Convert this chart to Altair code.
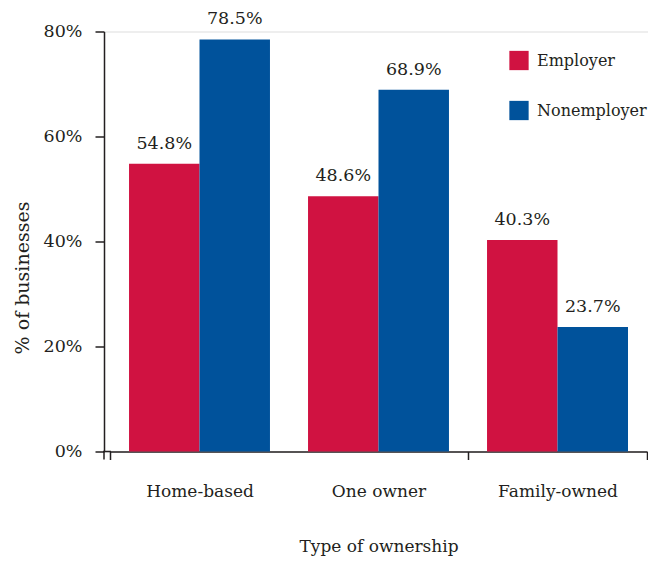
import altair as alt
import pandas as pd

categories = ["Home-based", "One owner", "Family-owned"]
series = ["Employer", "Nonemployer"]
employer = [54.8, 48.6, 40.3]
nonemployer = [78.5, 68.9, 23.7]
y_ticks = [0, 20, 40, 60, 80]

rows = []
for c, e, n in zip(categories, employer, nonemployer):
    rows.append({"type": c, "group": "Employer", "value": e, "label": f"{e:.1f}%"})
    rows.append({"type": c, "group": "Nonemployer", "value": n, "label": f"{n:.1f}%"})
df = pd.DataFrame(rows)

FONT = "DejaVu Serif"
TXT = "#231f20"
W, H = 544, 420

x = alt.X("type:N", sort=categories,
          scale=alt.Scale(paddingInner=0, paddingOuter=0, range=[6, W - 1]),
          axis=alt.Axis(title="Type of ownership", labelAngle=0, tickBand="extent",
                        tickSize=8, labelPadding=37, labelBaseline="alphabetic",
                        domainColor=TXT, tickColor=TXT,
                        tickOpacity={"condition": {"test": "datum.value === 'Home-based'",
                                                   "value": 0}, "value": 1},
                        domainWidth=1.5, tickWidth=1.5, labelFont=FONT, labelFontSize=17,
                        labelColor=TXT, titleFont=FONT, titleFontSize=17, titleColor=TXT,
                        titleFontWeight="normal", titleY=100,
                        titleBaseline="alphabetic"))
y = alt.Y("value:Q", scale=alt.Scale(domain=[0, 80], nice=False),
          axis=alt.Axis(title="% of businesses", values=y_ticks,
                        labelExpr="datum.value + '%'", grid=False, tickSize=9,
                        labelPadding=13, domainColor=TXT, tickColor=TXT, domainWidth=1.5,
                        tickWidth=1.5, labelFont=FONT, labelFontSize=17.5, labelColor=TXT,
                        titleFont=FONT, titleFontSize=19, titleColor=TXT,
                        titleFontWeight="normal", titleAngle=270, titleX=-76, titleY=246,
                        titleAlign="center", titleBaseline="alphabetic"))
xo = alt.XOffset("group:N", sort=series,
                 scale=alt.Scale(paddingInner=0, paddingOuter=0.27))

bars = alt.Chart(df).mark_bar().encode(
    x=x, y=y, xOffset=xo,
    color=alt.Color("group:N", sort=series,
                    scale=alt.Scale(domain=series, range=["#D01241", "#00529B"]),
                    legend=alt.Legend(title=None, orient="none", legendX=405, legendY=19,
                                      symbolType="square", symbolSize=372,
                                      symbolStrokeWidth=0, labelFont=FONT,
                                      labelFontSize=16, labelColor=TXT, rowPadding=30,
                                      padding=0, labelOffset=8)),
)

labels = alt.Chart(df).mark_text(font=FONT, fontSize=17.5, color=TXT,
                                 baseline="alphabetic", dy=-15).encode(
    x=x, y=y, xOffset=xo, text="label:N")

base = alt.Chart(pd.DataFrame({"v": [0]}))
baseline_ext = base.mark_rule(color=TXT, strokeWidth=1.5).encode(
    x=alt.value(-1), x2=alt.value(7), y=alt.Y("v:Q"))
axis_ext = base.mark_rule(color=TXT, strokeWidth=1.5).encode(
    x=alt.value(0), y=alt.value(H), y2=alt.value(H + 8))

chart = (bars + labels + baseline_ext + axis_ext).properties(
    width=W, height=H,
    autosize=alt.AutoSizeParams(type="none"),
    padding={"left": 96, "top": 23.5, "right": 0, "bottom": 104.5},
).configure_view(stroke=None).configure(background="white")

chart.save("out.html", embed_options={"renderer": "svg", "actions": False})
